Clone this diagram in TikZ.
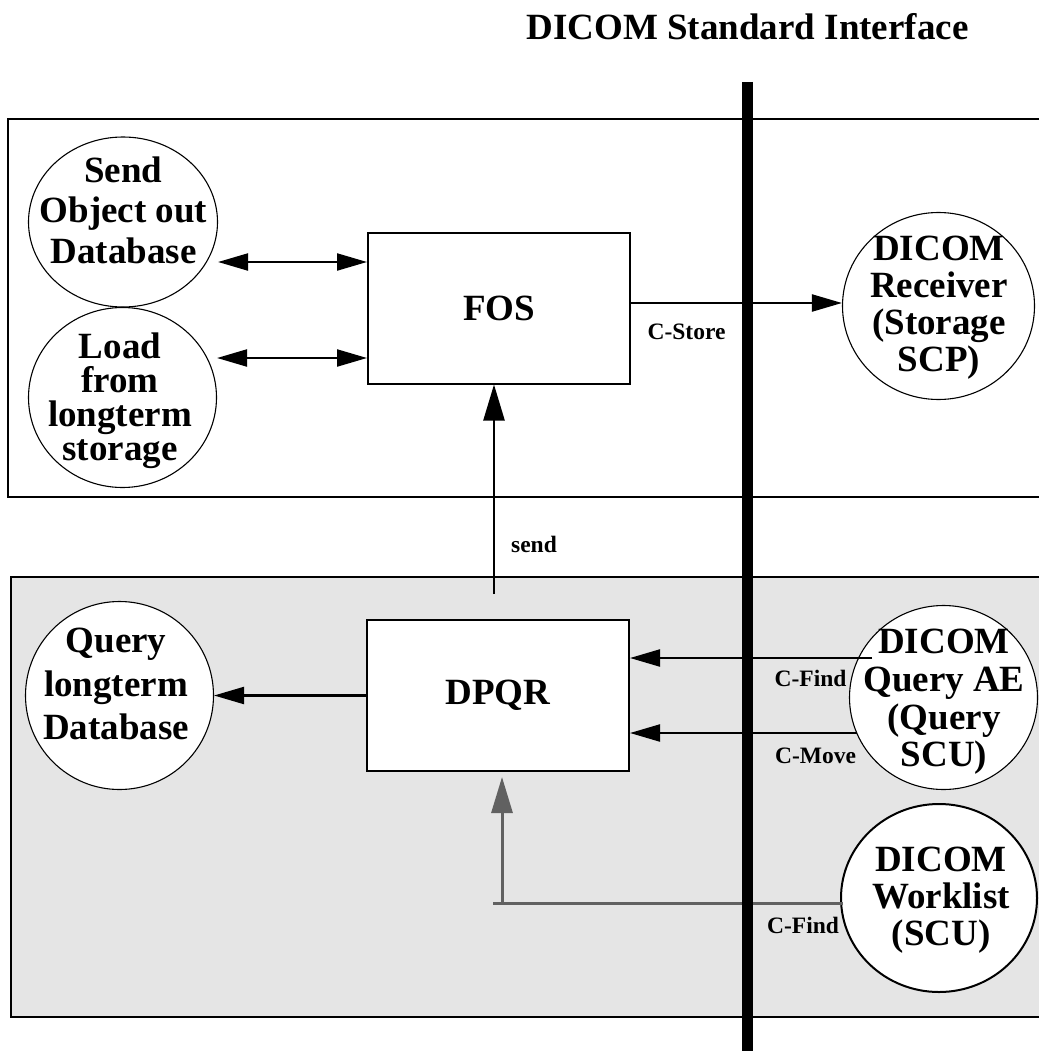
\documentclass[tikz,border=0pt]{standalone}
\usepackage{fontspec}
\setmainfont{Liberation Serif}
\usetikzlibrary{arrows.meta,shapes.geometric}
\begin{document}
\begin{tikzpicture}[x=1pt,y=-1pt,
  procbox/.style={draw,line width=2pt,fill=white,minimum width=262pt,minimum height=151pt,inner sep=0pt,
    font=\fontsize{37}{40}\selectfont\bfseries},
  bubble/.style={ellipse,draw,line width=1.1pt,fill=white,inner sep=0pt},
  btext/.style={align=center,inner sep=0pt,font=\fontsize{37}{#1}\selectfont\bfseries},
  conn/.style={line width=2.2pt,-{Triangle[length=30pt,width=17pt]}},
  dconn/.style={line width=2.2pt,{Triangle[length=30pt,width=17pt]}-{Triangle[length=30pt,width=17pt]}},
  bigconn/.style={line width=2.4pt,-{Triangle[length=36pt,width=21pt]}},
  greyline/.style={line width=3pt,draw=black!62},
  lab/.style={font=\fontsize{23.5}{26}\selectfont\bfseries,anchor=base,inner sep=0pt},
]
\useasboundingbox (0,0) rectangle (1039,1051);

% frames
\fill[black!10] (11,577) rectangle (1039,1017);
\draw[line width=2pt] (1039,577) -- (11,577) -- (11,1017) -- (1039,1017);
\draw[line width=2pt] (1039,119) -- (8,119) -- (8,497) -- (1039,497);

% title
\node[lab,font=\fontsize{37}{40}\selectfont\bfseries] (title) at (747.5,40) {DICOM Standard Interface};

% process boxes
\node[procbox] (fos) at (499,308) {FOS};
\node[procbox] (dpqr) at (498,695.5) {DPQR};

% bubbles
\node[bubble,minimum width=189pt,minimum height=170pt] (send) at (123,222) {};
\node[btext=40.5] (sendtext) at (123.5,210) {Send\\Object out\\Database};
\node[bubble,minimum width=188pt,minimum height=180pt] (load) at (122.5,397.5) {};
\node[btext=34] (loadtext) at (120,401) {Load\\from\\longterm\\storage};
\node[bubble,minimum width=188pt,minimum height=188pt] (qdb) at (119.5,695.5) {};
\node[btext=43.5] (qdbtext) at (116,684) {Query\\longterm\\Database};
\node[bubble,minimum width=192pt,minimum height=187pt] (rec) at (938.5,306) {};
\node[btext=37] (rectext) at (939,308) {DICOM\\Receiver\\(Storage\\SCP)};
\node[bubble,minimum width=188pt,minimum height=184pt] (qae) at (943.5,697.5) {};
\node[btext=37.7] (qaetext) at (944,702) {DICOM\\Query AE\\(Query\\SCU)};
\node[bubble,line width=2pt,minimum width=196pt,minimum height=188pt] (wl) at (939,898) {};
\node[btext=37] (wltext) at (941,900.5) {DICOM\\Worklist\\(SCU)};

% connectors top
\draw[dconn] ([yshift=-40pt]send.east) -- ([yshift=-40pt]send.east -| fos.west);
\draw[dconn] ([yshift=39.5pt]load.east) -- ([yshift=39.5pt]load.east -| fos.west);
\draw[conn] ([yshift=5pt]fos.east) -- ([yshift=5pt]fos.east -| rec.west);
\node[lab] (cstore) at (686.5,339) {C-Store};

% send
\coordinate (sendstart) at (494,594);
\draw[bigconn] (sendstart) -- (sendstart |- fos.south);
\node[lab] (sendlab) at (534,552) {send};

% query side
\draw[conn] (dpqr.west) -- (dpqr.west -| qdb.east);
\coordinate (cfind) at (872,658);
\draw[conn] (cfind) -- (cfind -| dpqr.east);
\coordinate (cmove) at (857,733);
\draw[conn] (cmove) -- (cmove -| dpqr.east);
\node[lab] (cfindlab) at (810.5,686) {C-Find};
\node[lab] (cmovelab) at (815.5,763) {C-Move};

% worklist
\coordinate (wlend) at (843,903);
\coordinate (gcorner) at (493,903);
\coordinate (gup) at (502,903);
\draw[greyline] (wlend) -- (gcorner);
\draw[greyline,-{Triangle[length=36pt,width=21pt]}] (gup) -- ([yshift=-5pt]gup |- dpqr.south);
\node[lab] (cfind2lab) at (803,933) {C-Find};

% interface bar
\draw[line width=11pt] (747,82) -- (747,1051);
\end{tikzpicture}
\end{document}
